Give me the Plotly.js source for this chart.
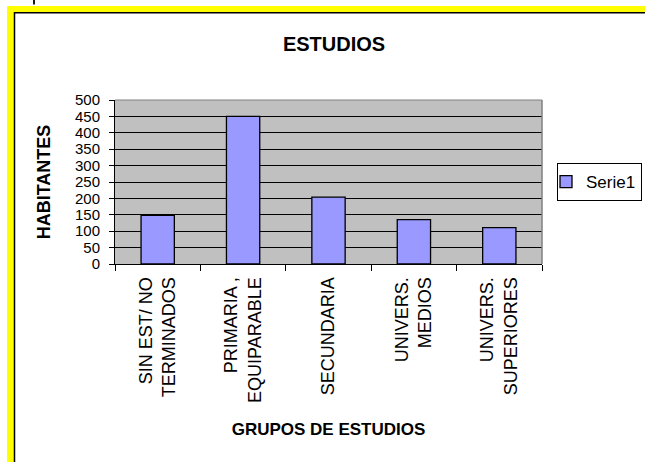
<!DOCTYPE html>
<html>
<head>
<meta charset="utf-8">
<script src="https://cdn.plot.ly/plotly-3.0.1.min.js"></script>
<style>html,body{margin:0;padding:0;background:#fff;overflow:hidden;}#chart{width:645px;height:462px;}</style>
</head>
<body>
<div id="chart"></div>
<script>
const categories = ["SIN EST/ NO<br>TERMINADOS", "PRIMARIA ,<br>EQUIPARABLE", "SECUNDARIA", "UNIVERS.<br>MEDIOS", "UNIVERS.<br>SUPERIORES"];
const habitantes = [148, 450, 204, 135, 111];
const seriesName = "Serie1";
const yTicks = [0, 50, 100, 150, 200, 250, 300, 350, 400, 450, 500];

const W = 645, H = 462;
const M = {l: 115, r: 103, t: 100, b: 198};
const pw = W - M.l - M.r, ph = H - M.t - M.b;
const px = x => (x - M.l) / pw;
const py = y => (H - M.b - y) / ph;

const FONT = "Liberation Sans, Arial, sans-serif";

const shapes = [
  {type: "rect", xref: "paper", yref: "paper", x0: px(7), x1: px(645), y0: py(6), y1: py(12), fillcolor: "#FFFF00", line: {width: 0}, layer: "below"},
  {type: "rect", xref: "paper", yref: "paper", x0: px(7), x1: px(14), y0: py(6), y1: py(462), fillcolor: "#FFFF00", line: {width: 0}, layer: "below"},
  {type: "line", xref: "paper", yref: "paper", x0: px(14.5), x1: px(14.5), y0: py(12), y1: py(462), line: {color: "#000", width: 1.5}},
  {type: "line", xref: "paper", yref: "paper", x0: px(14), x1: px(645), y0: py(12.8), y1: py(12.8), line: {color: "#000", width: 1.5}},
  {type: "line", xref: "paper", yref: "paper", x0: px(34), x1: px(34), y0: py(0), y1: py(4.5), line: {color: "#000", width: 1.8}},
  {type: "line", xref: "paper", yref: "paper", x0: 0, x1: 1, y0: 1, y1: 1, line: {color: "#808080", width: 1}},
  {type: "line", xref: "paper", yref: "paper", x0: 1, x1: 1, y0: 0, y1: 1, line: {color: "#808080", width: 1.5}}
];

const data = [{
  type: "bar",
  x: categories,
  y: habitantes,
  name: seriesName,
  marker: {color: "#9999FF", line: {color: "#000", width: 1.3}},
  showlegend: true
}];

const layout = {
  width: W, height: H,
  margin: M,
  paper_bgcolor: "#fff",
  plot_bgcolor: "#C0C0C0",
  font: {family: FONT, color: "#000", size: 15},
  title: {text: "<b>ESTUDIOS</b>", font: {family: FONT, size: 20, color: "#000"}, x: 334 / W, xanchor: "center", xref: "container", y: 1 - 44 / H, yanchor: "middle", automargin: false},
  bargap: 0.61,
  showlegend: true,
  legend: {xref: "container", yref: "container", x: 557 / W, y: 1 - 163 / H, xanchor: "left", yanchor: "top", bordercolor: "#000", borderwidth: 1, bgcolor: "#fff", font: {family: FONT, size: 17}, itemwidth: 30, indentation: -12},
  xaxis: {
    type: "category",
    tickangle: -90,
    tickson: "boundaries",
    ticks: "outside", ticklen: 6, tickcolor: "#000",
    showline: true, linecolor: "#000", linewidth: 1,
    showgrid: false,
    tickfont: {family: FONT, size: 18},
    ticklabelstandoff: 5,
    title: {text: "<b>GRUPOS DE ESTUDIOS</b>", font: {family: FONT, size: 17}, standoff: 21},
    automargin: false
  },
  yaxis: {
    range: [0, 500],
    tickvals: yTicks,
    ticktext: yTicks.map(String),
    ticks: "outside", ticklen: 5, tickcolor: "#000",
    showline: true, linecolor: "#000", linewidth: 1,
    showgrid: true, gridcolor: "#000", gridwidth: 1,
    zeroline: false,
    tickfont: {family: FONT, size: 15},
    ticklabelstandoff: 6,
    title: {text: "<b>HABITANTES</b>", font: {family: FONT, size: 18}, standoff: 19},
    automargin: false
  },
  shapes: shapes
};

Plotly.newPlot("chart", data, layout, {displayModeBar: false, staticPlot: true});
</script>
</body>
</html>
